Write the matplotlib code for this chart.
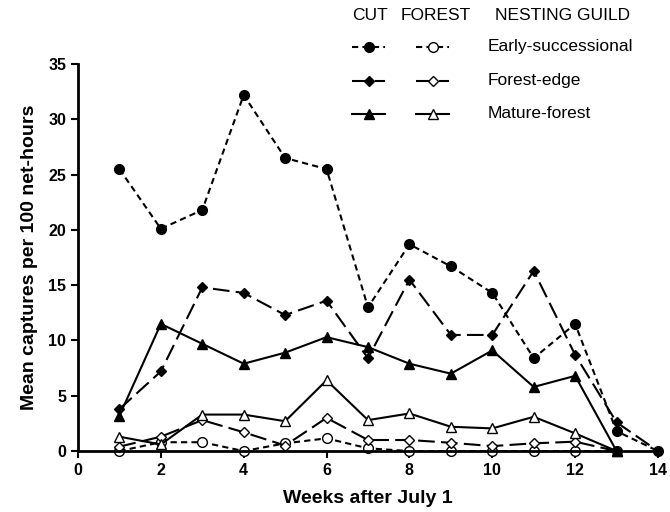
import matplotlib
matplotlib.use("Agg")
import matplotlib.pyplot as plt
from matplotlib.lines import Line2D

plt.rcParams['font.family'] = ['Liberation Sans', 'DejaVu Sans']

weeks = list(range(1, 15))
weeks_forest = list(range(1, 14))

# cut sites
cut_early = [25.5, 20.1, 21.8, 32.2, 26.5, 25.5, 13.0, 18.7, 16.7, 14.3, 8.4, 11.5, 1.8, 0.0]
cut_edge = [3.8, 7.2, 14.8, 14.3, 12.3, 13.6, 8.4, 15.5, 10.5, 10.5, 16.3, 8.7, 2.6, 0.0]
cut_mature = [3.2, 11.5, 9.7, 7.9, 8.9, 10.3, 9.4, 7.9, 7.0, 9.1, 5.8, 6.8, 0.0]

# forest sites
forest_early = [0.0, 0.8, 0.8, 0.0, 0.7, 1.15, 0.25, 0.0, 0.0, 0.0, 0.0, 0.0, 0.0]
forest_edge = [0.4, 1.3, 2.8, 1.7, 0.5, 3.0, 1.0, 1.0, 0.75, 0.45, 0.7, 0.85, 0.0]
forest_mature = [1.3, 0.6, 3.3, 3.3, 2.7, 6.4, 2.8, 3.4, 2.2, 2.05, 3.1, 1.6, 0.0]

guilds = ['Early-successional', 'Forest-edge', 'Mature-forest']

short_dash = (0, (3, 2))
long_dash = (0, (8, 3))

styles = {
    'early': dict(linestyle=short_dash, marker='o', markersize=7),
    'edge': dict(linestyle=long_dash, marker='D', markersize=5),
    'mature': dict(linestyle='-', marker='^', markersize=7.5),
}

fig = plt.figure(figsize=(6.7, 5.12), dpi=100)
ax = fig.add_axes([0.1164, 0.119, 0.8657, 0.756])

series = [
    (weeks_forest, forest_early, 'early', 'white'),
    (weeks_forest, forest_edge, 'edge', 'white'),
    (weeks_forest, forest_mature, 'mature', 'white'),
    (weeks_forest, cut_mature, 'mature', 'black'),
    (weeks, cut_edge, 'edge', 'black'),
    (weeks, cut_early, 'early', 'black'),
]
for x, y, kind, face in series:
    ax.plot(x, y, color='black', linewidth=1.5, markerfacecolor=face,
            markeredgecolor='black', markeredgewidth=1.0, clip_on=False,
            **styles[kind])

ax.set_xlim(0, 14)
ax.set_ylim(0, 35)
ax.set_xticks(range(0, 15, 2))
ax.set_yticks(range(0, 36, 5))
for side in ('top', 'right'):
    ax.spines[side].set_visible(False)
for side in ('left', 'bottom'):
    ax.spines[side].set_linewidth(2)
ax.tick_params(direction='out', length=5, width=1.5, labelsize=11.5)
for lbl in ax.get_xticklabels() + ax.get_yticklabels():
    lbl.set_fontweight('bold')
ax.set_xlabel('Weeks after July 1', fontsize=14, fontweight='bold', labelpad=9)
ax.set_ylabel('Mean captures per 100 net-hours', fontsize=14, fontweight='bold', labelpad=7)

# custom legend above the plot
W, H = 670.0, 512.0
fs = 12.5
fig.text(352 / W, 1 - 15 / H, 'CUT', fontsize=fs, va='center')
fig.text(401 / W, 1 - 15 / H, 'FOREST', fontsize=fs, va='center')
fig.text(495 / W, 1 - 15 / H, 'NESTING GUILD', fontsize=fs, va='center')
row_y = [47, 81, 114]
kinds = ['early', 'edge', 'mature']
for ry, kind, name in zip(row_y, kinds, guilds):
    yy = 1 - ry / H
    for x0, x1, face in [(352, 385, 'black'), (416, 449, 'white')]:
        st = dict(styles[kind])
        line = Line2D([x0 / W, (x0 + x1) / 2 / W, x1 / W], [yy, yy, yy],
                      transform=fig.transFigure, color='black', linewidth=1.5,
                      markevery=[1], markerfacecolor=face, markeredgecolor='black',
                      markeredgewidth=1.0, **st)
        fig.add_artist(line)
    fig.text(488 / W, yy, name, fontsize=fs, va='center')

fig.savefig('out.png', dpi=100)
